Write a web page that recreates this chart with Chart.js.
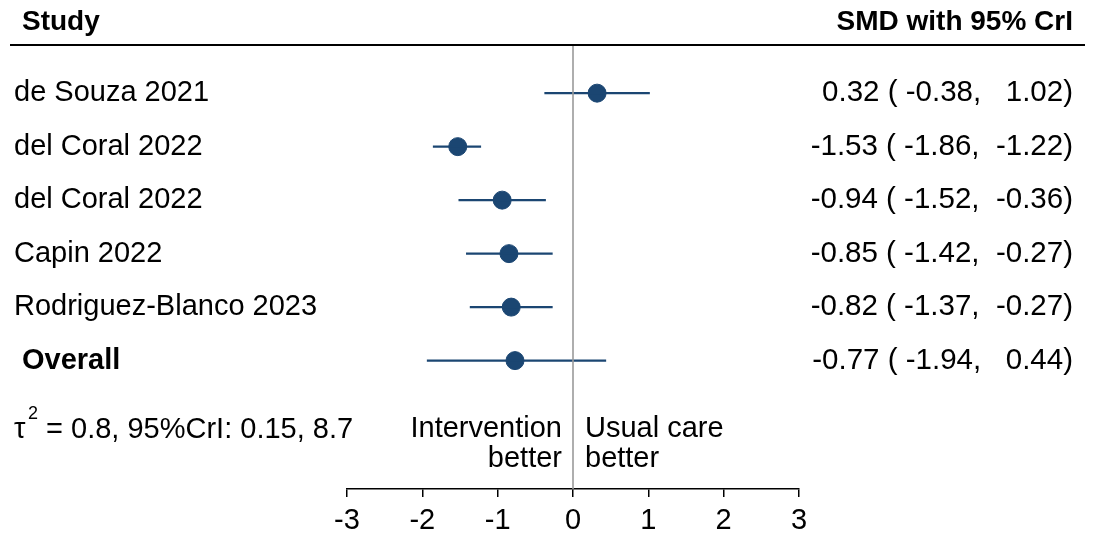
<!DOCTYPE html>
<html>
<head>
<meta charset="utf-8">
<script src="https://cdn.jsdelivr.net/npm/chart.js@4.4.1/dist/chart.umd.min.js"></script>
<style>
  html, body { margin: 0; padding: 0; background: #fff; }
  #wrap { width: 1095px; height: 539px; position: relative; }
</style>
</head>
<body>
<div id="wrap"><canvas id="forest"></canvas></div>
<script>
// data
const studies = ['de Souza 2021', 'del Coral 2022', 'del Coral 2022', 'Capin 2022', 'Rodriguez-Blanco 2023', 'Overall'];
const smd   = [0.32, -1.53, -0.94, -0.85, -0.82, -0.77];
const lower = [-0.38, -1.86, -1.52, -1.42, -1.37, -1.94];
const upper = [1.02, -1.22, -0.36, -0.27, -0.27, 0.44];
const ciText = [
    '0.32 ( -0.38,   1.02)',
    '-1.53 ( -1.86,  -1.22)',
    '-0.94 ( -1.52,  -0.36)',
    '-0.85 ( -1.42,  -0.27)',
    '-0.82 ( -1.37,  -0.27)',
    '-0.77 ( -1.94,   0.44)'
];
const xTicks = [-3, -2, -1, 0, 1, 2, 3];

const blue = '#1b4672';
const font = '"Liberation Sans", Arial, Helvetica, sans-serif';

// one little line dataset per row for the interval
const ciSets = studies.map((s, i) => ({
    type: 'line',
    data: [{ x: lower[i], y: i + 1 }, { x: upper[i], y: i + 1 }],
    borderColor: blue,
    borderWidth: 2.2,
    pointRadius: 0,
    showLine: true,
    fill: false
}));

const textPlugin = {
    id: 'forestText',
    afterDatasetsDraw(chart) {
        const ctx = chart.ctx;
        const x = chart.scales.x, y = chart.scales.y;
        const area = chart.chartArea;
        const x0 = x.getPixelForValue(0);

        // null line
        ctx.save();
        ctx.strokeStyle = '#9a9a9a';
        ctx.lineWidth = 1.6;
        ctx.beginPath();
        ctx.moveTo(x0, 45);
        ctx.lineTo(x0, area.bottom);
        ctx.stroke();

        // header
        ctx.fillStyle = '#000';
        ctx.textBaseline = 'middle';
        ctx.font = 'bold 28px ' + font;
        ctx.textAlign = 'left';
        ctx.fillText('Study', 22, 22);
        ctx.textAlign = 'right';
        ctx.fillText('SMD with 95% CrI', 1073, 22);
        ctx.strokeStyle = '#000';
        ctx.lineWidth = 2;
        ctx.beginPath();
        ctx.moveTo(10, 45);
        ctx.lineTo(1085, 45);
        ctx.stroke();

        // rows
        studies.forEach((s, i) => {
            const py = y.getPixelForValue(i + 1);
            const overall = s === 'Overall';
            ctx.font = (overall ? 'bold ' : '') + '29px ' + font;
            ctx.textAlign = 'left';
            ctx.fillText(s, overall ? 22 : 14, py);
            ctx.font = '29.5px ' + font;
            ctx.textAlign = 'right';
            ctx.fillText(ciText[i], 1073, py);
        });

        // heterogeneity
        ctx.textAlign = 'left';
        ctx.font = '29px ' + font;
        ctx.fillText('τ', 14, 430);
        ctx.font = '18px ' + font;
        ctx.fillText('2', 28, 414);
        ctx.font = '29px ' + font;
        ctx.fillText(' = 0.8, 95%CrI: 0.15, 8.7', 38, 430);

        // direction labels
        ctx.textAlign = 'right';
        ctx.fillText('Intervention', x0 - 11, 429);
        ctx.fillText('better', x0 - 11, 459);
        ctx.textAlign = 'left';
        ctx.fillText('Usual care', x0 + 12, 429);
        ctx.fillText('better', x0 + 12, 459);
        ctx.restore();
    }
};

new Chart(document.getElementById('forest'), {
    type: 'scatter',
    data: {
        datasets: ciSets.concat([{
            data: smd.map((v, i) => ({ x: v, y: i + 1 })),
            backgroundColor: blue,
            borderColor: blue,
            pointRadius: 9,
            pointHoverRadius: 9
        }])
    },
    options: {
        responsive: true,
        maintainAspectRatio: false,
        animation: false,
        layout: { padding: { left: 347, right: 296, top: 45, bottom: 0 } },
        plugins: { legend: { display: false }, tooltip: { enabled: false } },
        scales: {
            x: {
                type: 'linear',
                min: -3,
                max: 3,
                afterBuildTicks: axis => { axis.ticks = xTicks.map(v => ({ value: v })); },
                afterFit: axis => { axis.height = 50; },
                ticks: { color: '#000', font: { family: font, size: 29 }, padding: 7 },
                grid: { drawOnChartArea: false, drawTicks: true, tickLength: 8, color: '#000', lineWidth: 1.5 },
                border: { color: '#000', width: 1.5 }
            },
            y: {
                type: 'linear',
                min: 0.1,
                max: 8.4,
                reverse: true,
                display: false
            }
        }
    },
    plugins: [textPlugin]
});
</script>
</body>
</html>
